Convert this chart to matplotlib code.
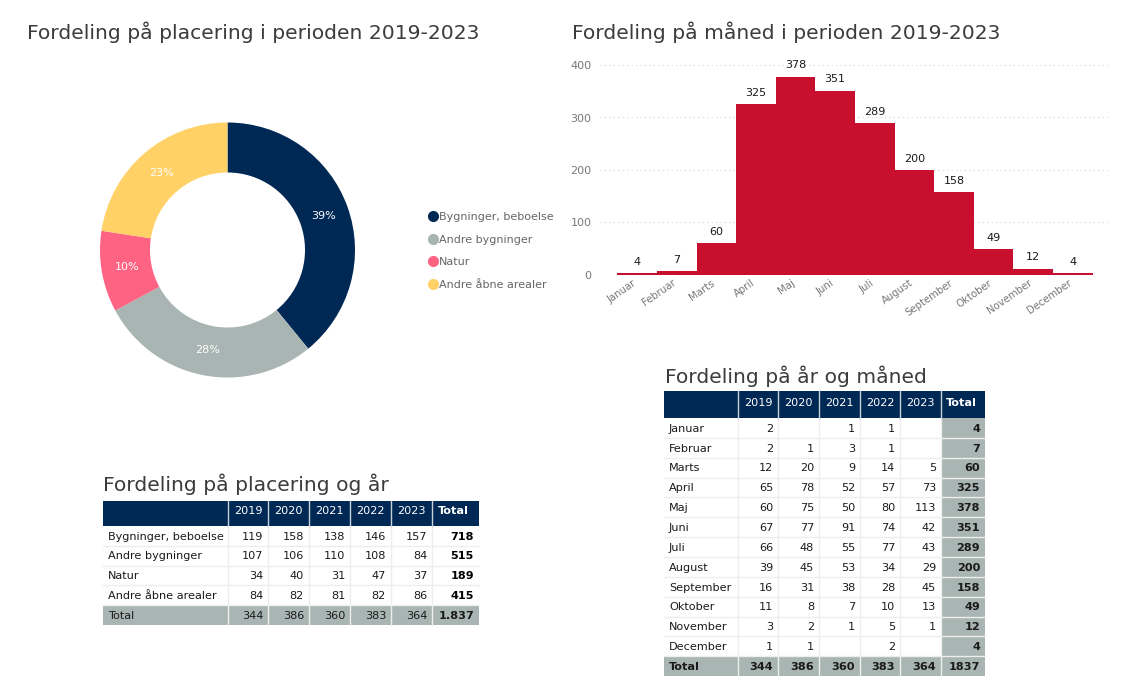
import matplotlib
matplotlib.use('Agg')
import matplotlib.pyplot as plt
from matplotlib.lines import Line2D
from matplotlib.patches import Rectangle
from matplotlib.transforms import ScaledTranslation

W, H = 1146, 694

# Data
years = ['2019', '2020', '2021', '2022', '2023']
places = ['Bygninger, beboelse', 'Andre bygninger', 'Natur', 'Andre åbne arealer']
place_totals = [718, 515, 189, 415]
place_pct = ['39%', '28%', '10%', '23%']
place_by_year = [
    [119, 158, 138, 146, 157],
    [107, 106, 110, 108, 84],
    [34, 40, 31, 47, 37],
    [84, 82, 81, 82, 86],
]
year_totals = [344, 386, 360, 383, 364]

months = ['Januar', 'Februar', 'Marts', 'April', 'Maj', 'Juni', 'Juli', 'August',
          'September', 'Oktober', 'November', 'December']
month_totals = [4, 7, 60, 325, 378, 351, 289, 200, 158, 49, 12, 4]
month_by_year = [
    [2, None, 1, 1, None],
    [2, 1, 3, 1, None],
    [12, 20, 9, 14, 5],
    [65, 78, 52, 57, 73],
    [60, 75, 50, 80, 113],
    [67, 77, 91, 74, 42],
    [66, 48, 55, 77, 43],
    [39, 45, 53, 34, 29],
    [16, 31, 38, 28, 45],
    [11, 8, 7, 10, 13],
    [3, 2, 1, 5, 1],
    [1, 1, None, 2, None],
]

# Colours
navy = '#002855'
grey = '#A8B5B2'
pink = '#FF6384'
yellow = '#FFD166'
red = '#C8102E'
title_col = '#3c3c3c'
label_col = '#777777'
text_col = '#1a1a1a'
fs = 8.1
title_fs = 14.6


def px_axes(fig, left, top, right, bottom):
    return fig.add_axes([left / W, 1 - bottom / H, (right - left) / W, (bottom - top) / H])


def draw_table(ax, col_x, row_y, body_rows, foot, foot_total, grey_total_col=False, bold_foot=False):
    # header
    ax.add_patch(Rectangle((col_x[0], row_y[0]), col_x[-1] - col_x[0], row_y[1] - row_y[0],
                           color=navy, lw=0, zorder=1))
    for i, lab in enumerate(years + ['Total']):
        ax.text((col_x[i + 1] + col_x[i + 2]) / 2 - (2 if i == 5 else 0),
                (row_y[0] + row_y[1]) / 2 - 2, lab, color='white', fontsize=fs,
                ha='center', va='center', fontweight='bold' if i == 5 else 'normal', zorder=4)
    # foot row background
    ax.add_patch(Rectangle((col_x[0], row_y[-2]), col_x[-1] - col_x[0], row_y[-1] - row_y[-2],
                           color=grey, lw=0, zorder=1))
    if grey_total_col:
        ax.add_patch(Rectangle((col_x[-2], row_y[1]), col_x[-1] - col_x[-2], row_y[-1] - row_y[1],
                               color=grey, lw=0, zorder=1))
    # grid
    for y in row_y[2:-1]:
        ax.plot([col_x[0], col_x[-1]], [y, y], color='#eeeeee', lw=1, zorder=2)
    for x in col_x[1:-1]:
        ax.plot([x, x], [row_y[1], row_y[-1]], color='#eeeeee', lw=1, zorder=2)
        ax.plot([x, x], [row_y[0], row_y[1]], color='#c9d1da', lw=1, zorder=3)
    # body
    for r, (name, vals, tot) in enumerate(body_rows):
        y = (row_y[r + 1] + row_y[r + 2]) / 2 + 0.8
        ax.text(col_x[0] + 5, y, name, fontsize=fs, color=text_col, ha='left', va='center', zorder=4)
        for c, v in enumerate(vals):
            if v is not None:
                ax.text(col_x[c + 2] - 5, y, str(v), fontsize=fs, color=text_col,
                        ha='right', va='center', zorder=4)
        ax.text(col_x[-1] - 5, y, str(tot), fontsize=fs, color=text_col if grey_total_col else 'black',
                ha='right', va='center', fontweight='bold', zorder=4)
    # foot row
    y = (row_y[-2] + row_y[-1]) / 2 + 0.8
    weight = 'bold' if bold_foot else 'normal'
    ax.text(col_x[0] + 5, y, 'Total', fontsize=fs, color=text_col, ha='left', va='center',
            fontweight=weight, zorder=4)
    for c, v in enumerate(foot):
        ax.text(col_x[c + 2] - 5, y, str(v), fontsize=fs, color=text_col, ha='right', va='center',
                fontweight=weight, zorder=4)
    ax.text(col_x[-1] - 5, y, foot_total, fontsize=fs, color=text_col, ha='right', va='center',
            fontweight='bold', zorder=4)


fig = plt.figure(figsize=(W / 100, H / 100), dpi=100, facecolor='white')

# Overlay in pixel coordinates: titles, legend, tables
bg = fig.add_axes([0, 0, 1, 1])
bg.set_xlim(0, W)
bg.set_ylim(H, 0)
bg.axis('off')

bg.text(27, 32, 'Fordeling på placering i perioden 2019-2023', fontsize=title_fs, color=title_col, va='center')
bg.text(572, 32, 'Fordeling på måned i perioden 2019-2023', fontsize=title_fs, color=title_col, va='center')
bg.text(103, 484, 'Fordeling på placering og år', fontsize=title_fs, color=title_col, va='center')
bg.text(665, 376, 'Fordeling på år og måned', fontsize=title_fs, color=title_col, va='center')

# Donut
ax_pie = px_axes(fig, 100, 122.5, 355, 377.5)
colors = [navy, grey, pink, yellow]
wedges, _, autotexts = ax_pie.pie(place_totals, colors=colors, startangle=90, counterclock=False,
                                  radius=1, wedgeprops=dict(width=0.392),
                                  autopct='%1.0f%%', pctdistance=0.8,
                                  textprops=dict(color='white', fontsize=8))
for t, s in zip(autotexts, place_pct):
    t.set_text(s)
ax_pie.set_xlim(-1, 1)
ax_pie.set_ylim(-1, 1)

# Legend
handles = [Line2D([], [], marker='o', ls='', color=c, markersize=7) for c in colors]
leg = bg.legend(handles, places, loc='center left', bbox_to_anchor=(427.5 / W, 1 - 251 / H),
                bbox_transform=fig.transFigure, frameon=False, fontsize=8.05, labelspacing=1.12,
                handlelength=0.9, handletextpad=0.1, labelcolor='#666666', borderpad=0, borderaxespad=0)

# Bars
ax_bar = px_axes(fig, 600, 65, 1108, 275)
x = list(range(len(months)))
ax_bar.bar(x, month_totals, width=1.0, color=red, zorder=3)
ax_bar.set_xlim(-0.937, 11.89)
ax_bar.set_ylim(0, 400)
ax_bar.set_yticks([0, 100, 200, 300, 400])
ax_bar.grid(axis='y', color='#d4d4d4', ls=(0, (1, 3)), lw=0.8, zorder=0)
ax_bar.set_xticks(x)
ax_bar.set_xticklabels(months, rotation=35, ha='right', rotation_mode='anchor')
ax_bar.tick_params(axis='both', length=0, labelsize=8, labelcolor=label_col)
ax_bar.tick_params(axis='y', pad=6)
ax_bar.tick_params(axis='x', pad=2, labelsize=7.3)
shift = ScaledTranslation(-5 / 100, 0, fig.dpi_scale_trans)
for lab in ax_bar.get_xticklabels():
    lab.set_transform(lab.get_transform() + shift)
for s in ax_bar.spines.values():
    s.set_visible(False)
ax_bar.patch.set_alpha(0)
for i, v in zip(x, month_totals):
    ax_bar.annotate(str(v), (i, v), xytext=(0, 4.5), textcoords='offset points', ha='center',
                    va='bottom', fontsize=8, color=text_col, clip_on=False)

# Tables
rows_left = list(zip(places, place_by_year, place_totals))
draw_table(bg, [103, 228, 268, 309, 350, 391, 432, 479], [501, 526, 545.5, 565.5, 585, 605, 625],
           rows_left, year_totals, '1.837')

rows_right = list(zip(months, month_by_year, month_totals))
row_y = [391, 418] + [418 + i * 19.85 for i in range(1, 14)]
draw_table(bg, [664, 738, 778, 819, 860, 900, 941, 985], row_y,
           rows_right, year_totals, '1837', grey_total_col=True, bold_foot=True)

fig.savefig('out.png', dpi=100)
